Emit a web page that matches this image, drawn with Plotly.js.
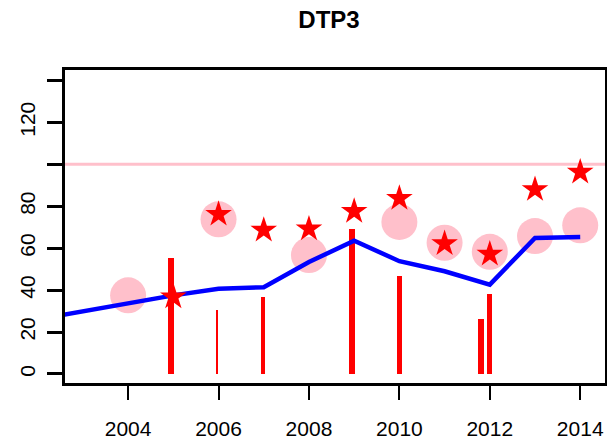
<!DOCTYPE html>
<html>
<head>
<meta charset="utf-8">
<script src="https://cdn.plot.ly/plotly-3.0.1.min.js"></script>
<style>html,body{margin:0;padding:0;background:#fff;}#chart{width:607px;height:441px;}</style>
</head>
<body>
<div id="chart"></div>
<script>
// Coverage line (blue)
const lineYears = [2002, 2003, 2004, 2005, 2006, 2007, 2008, 2009, 2010, 2011, 2012, 2013, 2014];
const lineValues = [26.1, 29.9, 33.7, 37.5, 40.7, 41.4, 53.4, 63.6, 53.8, 49.0, 42.6, 64.9, 65.3];

// Survey bars (red vertical lines)
const barYears = [2004.94, 2005.97, 2006.98, 2008.96, 2010.0, 2011.81, 2012.0];
const barValues = [55.3, 30.3, 36.7, 69.2, 46.8, 26.0, 38.0];
const barWidths = [0.13, 0.05, 0.09, 0.13, 0.11, 0.13, 0.11]; // style: stroke widths in year units

// Pink circles
const circleYears = [2004, 2006, 2008, 2010, 2011, 2012, 2013, 2014];
const circleValues = [37.5, 73.8, 56.7, 72.5, 62.6, 58.3, 65.8, 70.9];

// Red stars
const starYears = [2005, 2006, 2007, 2008, 2009, 2010, 2011, 2012, 2013, 2014];
const starValues = [36.8, 76.2, 68.6, 69.2, 77.6, 83.8, 62.2, 57.2, 88.0, 96.3];

// Axes
const xTickVals = [2004, 2006, 2008, 2010, 2012, 2014];
const xTickText = ['2004', '2006', '2008', '2010', '2012', '2014'];
const yTickVals = [0, 20, 40, 60, 80, 100, 120, 140];
const yTickText = ['0', '20', '40', '60', '80', '', '120', ''];
const targetLevel = 100;

const tickFont = {family: '"Liberation Sans Narrow", "Liberation Sans", Arial, sans-serif', size: 21, color: '#000'};

const traces = [
  {type: 'scatter', mode: 'markers', x: circleYears, y: circleValues,
   marker: {symbol: 'circle', size: 36, color: '#FFC0CB', line: {width: 0}},
   hoverinfo: 'skip', showlegend: false},
  {type: 'bar', x: barYears, y: barValues, width: barWidths,
   marker: {color: '#FF0000', line: {width: 0}}, showlegend: false},
  {type: 'scatter', mode: 'lines', x: lineYears, y: lineValues,
   line: {color: '#0000FF', width: 4.5}, showlegend: false},
  {type: 'scatter', mode: 'markers', x: starYears, y: starValues,
   marker: {symbol: 'star', size: 20, color: '#FF0000', line: {width: 0}},
   showlegend: false}
];

const layout = {
  width: 607, height: 441,
  margin: {l: 65, r: 2, t: 70, b: 58, pad: 0},
  paper_bgcolor: '#fff', plot_bgcolor: '#fff',
  showlegend: false,
  title: {text: 'DTP3', x: 0.542, xref: 'container', xanchor: 'center', y: 0.955, yref: 'container', yanchor: 'middle',
          font: {family: '"Liberation Sans", Arial, sans-serif', size: 24, weight: 700, color: '#000'}},
  xaxis: {range: [2002.604, 2014.548], tickvals: xTickVals, ticktext: xTickText,
          ticks: 'outside', ticklen: 14, tickwidth: 2, tickcolor: '#000',
          showline: true, linewidth: 3, linecolor: '#000', mirror: true,
          showgrid: false, zeroline: false, tickfont: tickFont, ticklabelstandoff: 11},
  yaxis: {range: [-4.3, 145.0], tickvals: yTickVals, ticktext: yTickText,
          ticks: 'outside', ticklen: 15, tickwidth: 3, tickcolor: '#000',
          showline: true, linewidth: 3, linecolor: '#000', mirror: true,
          showgrid: false, zeroline: false, tickfont: tickFont, tickangle: -90, ticklabelstandoff: 4},
  shapes: [{type: 'line', xref: 'paper', x0: 0, x1: 1, yref: 'y', y0: targetLevel, y1: targetLevel,
            line: {color: '#FFC0CB', width: 3}, layer: 'below'}],
  bargap: 0
};

Plotly.newPlot('chart', traces, layout, {staticPlot: true, displayModeBar: false});
</script>
</body>
</html>
